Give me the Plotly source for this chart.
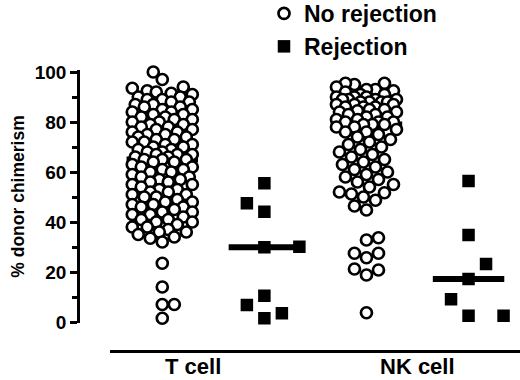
import numpy as np
import plotly.graph_objects as go

# ---------------- data ----------------
categories = ["T cell", "NK cell"]
group_names = ["No rejection", "Rejection"]

t_no_rejection = [100, 97, 94, 93.5, 92.5, 92, 91.5, 91, 90, 90, 89, 89, 88, 88, 87, 87,
                  86, 86, 85, 85, 84, 84, 83, 83, 82, 82, 81, 81, 80, 80, 79, 79, 78, 78,
                  77, 77, 76, 76, 75, 75, 74, 74, 73, 73, 72, 72, 71, 71, 70, 70, 69, 69,
                  68, 68, 67, 67, 67, 66, 66, 65, 65, 65, 64, 64, 63, 62, 62, 61, 61, 60,
                  60, 59, 58, 58, 57, 57, 56, 56, 55, 55, 54, 53, 53, 52, 52, 51, 51, 50,
                  50, 49, 48, 48, 47, 47, 46, 46, 45, 44, 44, 43, 43, 42, 41, 41, 40, 40,
                  39, 38, 38, 37, 36, 36, 35, 34, 33.5, 32, 23.5, 14, 7, 7, 1.5]
t_rejection = [55.5, 47.5, 44.1, 29.9, 30.1, 10.5, 6.8, 3.5, 1.5]

nk_no_rejection = [95.5, 95, 95.5, 94, 93, 93, 92.5, 92, 91, 91, 90, 90, 90, 89, 89, 89, 89,
                   88, 88, 88, 88, 87, 87, 87, 86, 86, 86, 85, 85, 84.5, 84, 84, 83, 83,
                   82, 82, 81, 81, 80, 80, 80, 79, 79, 79, 78, 78, 77, 76, 76, 75, 74, 73,
                   72, 71, 70, 69, 68, 67, 66, 65, 64, 63, 62, 61, 60, 59, 58, 57, 56, 55,
                   54, 52, 51.7, 51.2, 50, 48.7, 46.4, 44.8, 33.7, 32.8, 27.5, 27.5, 25.7,
                   21.2, 20.8, 18.8, 3.7]
nk_rejection = [56.4, 34.8, 23.2, 17.2, 9.1, 2.5, 2.5]

y_tick_values = [0, 20, 40, 60, 80, 100]
y_minor_values = [10, 30, 50, 70, 90]

# ---------------- layout constants ----------------
W, H = 520, 380
M_L, M_R, M_T, M_B = 80, 0, 70, 57
PLOT_W, PLOT_H = W - M_L - M_R, H - M_T - M_B
X_RANGE = [-0.806, 3.504]
Y_RANGE = [-0.4, 100.8]
PX_X = PLOT_W / (X_RANGE[1] - X_RANGE[0])
PX_Y = PLOT_H / (Y_RANGE[1] - Y_RANGE[0])


def py_paper(pixel_y):
    return (H - M_B - pixel_y) / PLOT_H


def swarm_offsets(values, step_px, min_px, max_steps):
    """Greedy beeswarm: returns x offsets (data units) for each value."""
    vals = np.asarray(values, dtype=float)
    order = np.argsort(vals, kind="stable")
    placed = []
    offs = np.zeros(len(vals))
    side = 1
    for i in order:
        y = vals[i] * PX_Y
        cands = [0.0]
        for k in range(1, max_steps + 1):
            cands += [side * k * step_px, -side * k * step_px]
        chosen = None
        best, best_d = 0.0, -1
        for c in cands:
            d = min([np.hypot(c - px, y - py) for px, py in placed] or [1e9])
            if d >= min_px:
                chosen = c
                break
            if d > best_d + 1e-9:
                best, best_d = c, d
        if chosen is None:
            chosen = best
        if chosen * side > 0:
            side = -side
        placed.append((chosen, y))
        offs[i] = chosen / PX_X
    return offs


series = [
    (0, t_no_rejection, 0),
    (1, t_rejection, 1),
    (2, nk_no_rejection, 0),
    (3, nk_rejection, 1),
]

fig = go.Figure()

# median lines (drawn first so markers sit on top)
mx, my = [], []
for pos, vals, g in series:
    m = float(np.median(vals))
    mx += [pos - 0.35, pos + 0.35, None]
    my += [m, m, None]
fig.add_trace(go.Scatter(x=mx, y=my, mode="lines", line=dict(color="black", width=6),
                         showlegend=False, hoverinfo="skip", cliponaxis=False))

for g, name in enumerate(group_names):
    xs, ys = [], []
    for pos, vals, gg in series:
        if gg != g:
            continue
        if g == 0:
            offs = swarm_offsets(vals, 3.0, 11.5, 10)
        else:
            offs = swarm_offsets(vals, 17.5, 18, 2)
        xs += list(pos + offs)
        ys += list(vals)
    if g == 0:
        marker = dict(symbol="circle", size=11, color="white",
                      line=dict(color="black", width=2.7))
    else:
        marker = dict(symbol="square", size=12.5, color="black", line=dict(width=0))
    fig.add_trace(go.Scatter(x=xs, y=ys, mode="markers", name=name, marker=marker,
                             legendgroup=name, cliponaxis=False))

FONT = "Liberation Sans, Arial, sans-serif"

# bottom category bar and labels
fig.add_shape(type="line", xref="paper", yref="paper",
              x0=(110 - M_L) / PLOT_W, x1=1.0,
              y0=py_paper(351.5), y1=py_paper(351.5),
              line=dict(color="black", width=3))
for label, xpos in zip(categories, [0.305, 2.5]):
    fig.add_annotation(x=xpos, y=py_paper(366), xref="x", yref="paper", text=label,
                       showarrow=False,
                       font=dict(family=FONT, size=22, color="black", weight="bold"),
                       xanchor="center", yanchor="middle")

fig.update_layout(
    width=W, height=H,
    margin=dict(l=M_L, r=M_R, t=M_T, b=M_B, autoexpand=False),
    plot_bgcolor="white", paper_bgcolor="white",
    font=dict(family=FONT, color="black"),
    showlegend=True,
    legend=dict(x=(264 - M_L) / PLOT_W, y=1 + (M_T + 8) / PLOT_H,
                xanchor="left", yanchor="top", tracegroupgap=0,
                font=dict(family=FONT, size=23, color="black", weight="bold"),
                bgcolor="rgba(0,0,0,0)"),
    xaxis=dict(range=X_RANGE, visible=False, fixedrange=True),
    yaxis=dict(range=Y_RANGE, showgrid=False, zeroline=False, showline=True,
               linecolor="black", linewidth=2.5, ticks="outside", ticklen=7,
               tickwidth=2.5, tickcolor="black", tickvals=y_tick_values,
               tickfont=dict(family=FONT, size=19, color="black", weight="bold"),
               minor=dict(tickvals=y_minor_values, ticks="outside", ticklen=5,
                          tickwidth=2.5, tickcolor="black"),
               title=dict(text="% donor chimerism", standoff=6,
                          font=dict(family=FONT, size=17.5, color="black", weight="bold"))),
)

fig.write_html("out.html",
               config={"displayModeBar": False},
               post_script="document.body.style.margin='0';"
                           "document.body.style.overflow='hidden';")
